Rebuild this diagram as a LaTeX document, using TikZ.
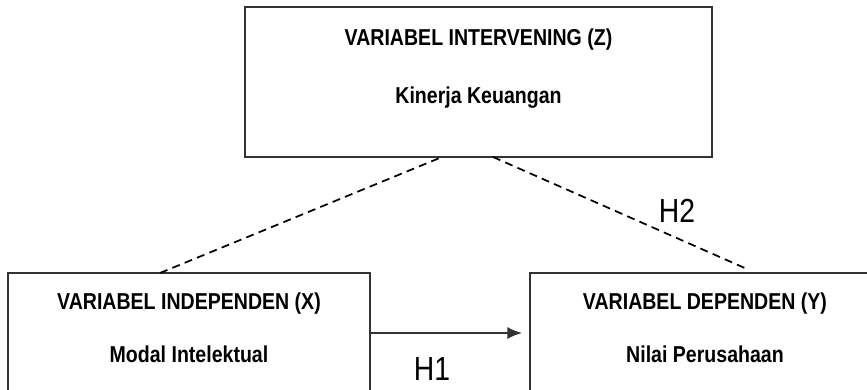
\documentclass[tikz,border=0pt]{standalone}
\usepackage{fontspec}
\usetikzlibrary{arrows.meta}
\newfontfamily\narrowfont{Liberation Sans}[FakeStretch=0.85]
\tikzset{
  box/.style={draw=black!80, line width=1.1pt, fill=none, inner sep=0pt, outer sep=0pt},
  ttl/.style={font=\narrowfont\bfseries\fontsize{17.25}{20}\selectfont, anchor=base, inner sep=0pt},
  hlab/.style={font=\narrowfont\fontsize{25}{30}\selectfont, anchor=base, inner sep=0pt},
  dashline/.style={line width=1.3pt, dash pattern=on 6pt off 4pt},
  arrowline/.style={line width=1.1pt, draw=black!80, -{Latex[length=11pt,width=9pt]}, shorten >=6pt}
}
\begin{document}
\begin{tikzpicture}[x=0.75pt,y=-0.75pt]
\useasboundingbox (0,0) rectangle (867,389);
\clip (0,0) rectangle (867,389);
% boxes
\node[box, minimum width=350.25pt, minimum height=112.5pt] (T) at (478.5,82) {};
\node[box, minimum width=271.5pt, minimum height=90pt] (L) at (189,333) {};
\node[box, minimum width=262.5pt, minimum height=90pt] (R) at (705,333) {};
% texts
\node[ttl] (t1) at (478.5,45) {VARIABEL INTERVENING (Z)};
\node[ttl] (t2) at (478.5,103) {Kinerja Keuangan};
\node[ttl] (l1) at (189,309) {VARIABEL INDEPENDEN (X)};
\node[ttl] (l2) at (189,362) {Modal Intelektual};
\node[ttl] (r1) at (705,309) {VARIABEL DEPENDEN (Y)};
\node[ttl] (r2) at (705,362) {Nilai Perusahaan};
\node[hlab] (h1) at (432,380) {H1};
\node[hlab] (h2) at (677,222) {H2};
% dashed connectors
\coordinate (a1) at (160,272);
\coordinate (a2) at (442,157);
\coordinate (b1) at (493,157);
\coordinate (b2) at (747,269);
\draw[dashline] (L.north -| a1) -- (T.south -| a2);
\draw[dashline] (T.south -| b1) -- (b2);
% arrow
\draw[arrowline] (L.east) -- (R.west);
\end{tikzpicture}
\end{document}
